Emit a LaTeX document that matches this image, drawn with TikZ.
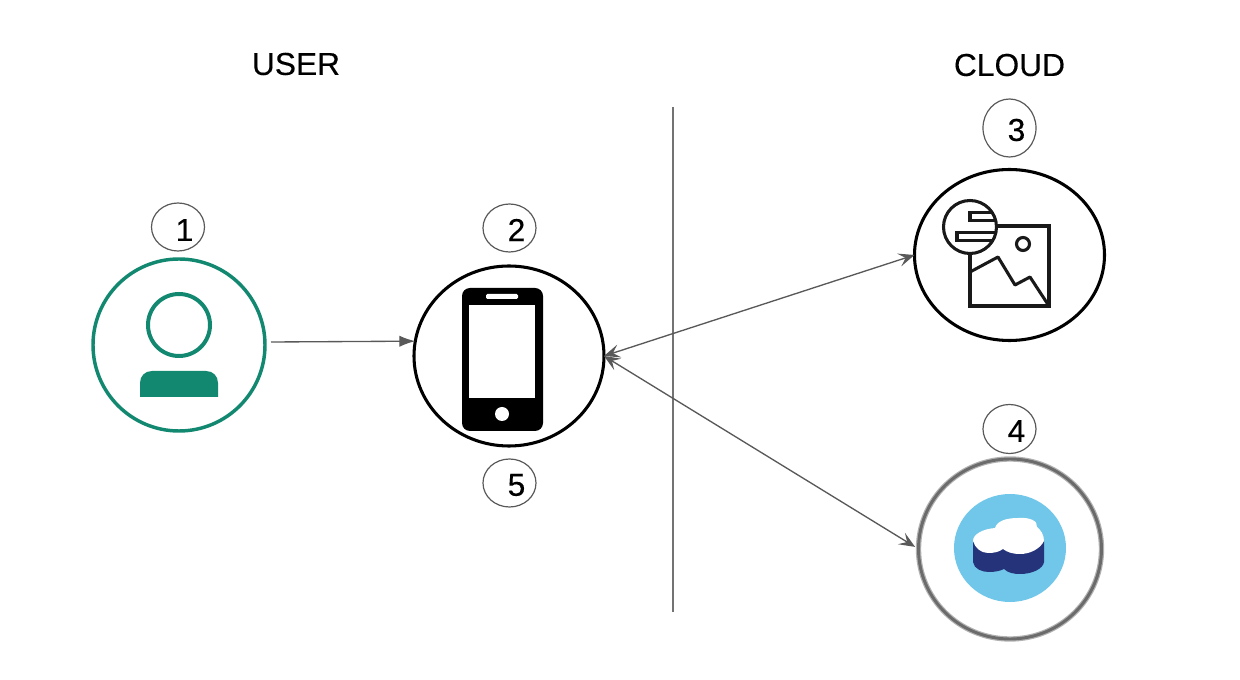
\documentclass[tikz,border=0pt]{standalone}
\usepackage{fontspec}
\setmainfont{Liberation Sans}
\newfontfamily\lblfont[FakeBold=0.25]{Liberation Sans}
\usetikzlibrary{shapes.geometric,arrows.meta}
\definecolor{tealc}{HTML}{138871}
\definecolor{linec}{HTML}{595959}
\definecolor{skyc}{HTML}{70C7E9}
\definecolor{navyc}{HTML}{24337A}
\tikzset{
  ring/.style n args={2}{ellipse,inner sep=0pt,outer sep=0pt,minimum width=#1*0.75pt,minimum height=#2*0.75pt},
  bigring/.style={line width=2.3pt,draw=black},
  numring/.style={draw=linec,line width=0.9pt},
  lbl/.style={font=\lblfont\fontsize{23.8}{28}\selectfont,inner sep=0pt,text=black},
  conn/.style={draw=linec,line width=1pt},
  both/.style={conn,{Stealth[length=12pt,width=10pt,inset=5pt]}-{Stealth[length=12pt,width=10pt,inset=5pt]}},
  one/.style={conn,-{Latex[length=12pt,width=8.5pt]}},
  icon/.style={draw=black!90,line width=2.3pt,line join=miter},
}
\begin{document}
\begin{tikzpicture}[x=0.75pt,y=-0.75pt]
\useasboundingbox (0,0) rectangle (1240,680);
% titles
\node[lbl] (user) at (296,64) {USER};
\node[lbl] (cloud) at (1009.5,65) {CLOUD};
% divider
\coordinate (divt) at (673,107);
\coordinate (divb) at (673,612);
\draw[draw=black!55,line width=1.1pt] (divt) -- (divb);
% big circles
\node[ring={172}{172},draw=tealc,line width=2.6pt] (c1) at (179,345) {};
\node[ring={190}{180},bigring] (c2) at (509,356) {};
\node[ring={190}{171},bigring] (c3) at (1009.5,255) {};
\node[ring={183}{180},draw=black!30,line width=4pt] (c4) at (1010,549) {};
\node[ring={183}{180},draw=black!58,line width=2.2pt] (c4b) at (1010,549) {};
% number circles
\node[ring={53}{48},numring] (n1) at (178,227) {};
\node[lbl] (t1) at (184.5,230) {1};
\node[ring={53}{48},numring] (n2) at (509.5,228) {};
\node[lbl] (t2) at (516.5,230) {2};
\node[ring={53}{58},numring] (n3) at (1009.5,128) {};
\node[lbl] (t3) at (1016.5,130) {3};
\node[ring={53}{49},numring] (n4) at (1009.5,429) {};
\node[lbl] (t4) at (1016.5,431) {4};
\node[ring={53}{48},numring] (n5) at (509.5,483) {};
\node[lbl] (t5) at (516.5,485) {5};
% person
\draw[tealc,line width=3pt] (179,325) circle[radius=31];
\fill[tealc] (140,397) -- (140,383) .. controls (140,376) and (145,371) .. (152,371) -- (206,371)
  .. controls (213,371) and (218,376) .. (218,383) -- (218,397) -- cycle;
% phone
\fill[black,rounded corners=6pt] (462,288) rectangle (543,431);
\fill[white] (469,305) rectangle (535,398);
\fill[white,rounded corners=1pt] (486,294) rectangle (518,299);
\fill[white] (502,414) circle[radius=7];
% image icon
\draw[icon] (970,226) rectangle (1049,306);
\draw[icon] (1023,244) circle[radius=6.5];
\draw[icon,line join=round] (970,272) -- (998,257) -- (1015,285) -- (1030,277) -- (1049,306);
\filldraw[icon,fill=white] (970,227) circle[radius=26.5];
\begin{scope}
\clip (970,227) circle[radius=26];
\draw[icon] (999,212.5) -- (970,212.5) -- (970,220.5) -- (999,220.5);
\draw[icon] (999,232.5) -- (957,232.5) -- (957,240.5) -- (999,240.5);
\end{scope}
% cloud storage icon
\node[ring={112}{108},fill=skyc] (disk) at (1010,548) {};
\fill[navyc] (973,541) -- (973,562) .. controls (974,569) and (982,572) .. (989,572)
  .. controls (995,572) and (1000,571) .. (1004,569) .. controls (1008,573) and (1014,574) .. (1020,574)
  .. controls (1032,574) and (1043,569) .. (1044,562) -- (1044,541) -- cycle;
\fill[white] (973,541) .. controls (973,534) and (983,529) .. (995,528)
  .. controls (997,521) and (1006,518) .. (1018,518)
  .. controls (1030,517) and (1038,521) .. (1037,527)
  .. controls (1041,530) and (1044,535) .. (1044,541)
  .. controls (1040,549) and (1030,554) .. (1020,554)
  .. controls (1012,554) and (1007,552) .. (1003,549)
  .. controls (999,552) and (994,553) .. (988,553)
  .. controls (981,553) and (975,548) .. (973,541) -- cycle;
% connectors
\coordinate (s1) at (271,342);
\draw[one] (s1) -- (c2.171);
\draw[both] (c2.east) -- (c3.west);
\draw[both,shorten >=3pt] (c2.east) -- (c4.west);
\end{tikzpicture}
\end{document}
